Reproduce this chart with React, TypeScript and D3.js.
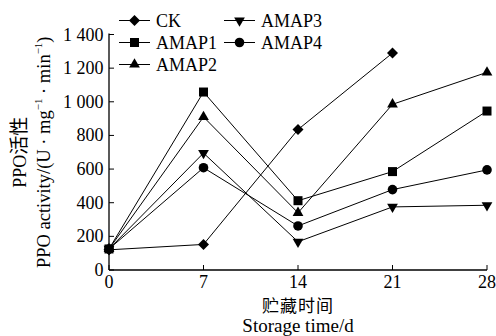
import React, { useRef, useEffect } from 'react';
import * as d3 from 'd3';

const days = [0, 7, 14, 21, 28];
const ckValues = [120, 152, 835, 1290];
const amap1Values = [125, 1058, 412, 585, 945];
const amap2Values = [125, 910, 340, 985, 1175];
const amap3Values = [125, 695, 168, 375, 385];
const amap4Values = [125, 608, 262, 478, 595];
const yTicks = [0, 200, 400, 600, 800, 1000, 1200, 1400];

const seriesNames = ['CK', 'AMAP1', 'AMAP2', 'AMAP3', 'AMAP4'];
const seriesValues = [ckValues, amap1Values, amap2Values, amap3Values, amap4Values];

const W = 496;
const H = 336;
const serif = 'Liberation Serif, Times New Roman, serif';
const cjk = 'Noto Sans CJK SC, sans-serif';

const fmt = (v: number) =>
  v >= 1000 ? `${Math.floor(v / 1000)} ${String(v % 1000).padStart(3, '0')}` : String(v);

// marker for each series
const drawMarker = (g: any, name: string, x: number, y: number) => {
  const t = `translate(${x},${y})`;
  if (name === 'CK') {
    g.append('path').attr('d', 'M0,-5.5L5.5,0L0,5.5L-5.5,0Z').attr('transform', t).attr('fill', '#000');
  } else if (name === 'AMAP1') {
    g.append('rect').attr('x', x - 4.5).attr('y', y - 4.5).attr('width', 9).attr('height', 9).attr('fill', '#000');
  } else if (name === 'AMAP2') {
    g.append('path').attr('d', d3.symbol(d3.symbolTriangle, 50)()).attr('transform', t).attr('fill', '#000');
  } else if (name === 'AMAP3') {
    g.append('path').attr('d', d3.symbol(d3.symbolTriangle, 50)()).attr('transform', `${t} rotate(180)`).attr('fill', '#000');
  } else {
    g.append('circle').attr('cx', x).attr('cy', y).attr('r', 4.8).attr('fill', '#000');
  }
};

const App = () => {
  const ref = useRef<SVGSVGElement>(null);

  useEffect(() => {
    const svg = d3.select(ref.current);
    svg.selectAll('*').remove();

    const x = d3.scaleLinear().domain([0, 28]).range([109, 487]);
    const y = d3.scaleLinear().domain([0, 1400]).range([270, 34.5]);

    // axes
    const ax = svg.append('g').attr('stroke', '#000').attr('stroke-width', 1.3);
    ax.append('line').attr('x1', x(0)).attr('x2', x(28)).attr('y1', y(0)).attr('y2', y(0));
    ax.append('line').attr('x1', x(0)).attr('x2', x(0)).attr('y1', y(0)).attr('y2', y(1400) - 1);
    days.forEach(d => {
      ax.append('line').attr('x1', x(d)).attr('x2', x(d)).attr('y1', y(0)).attr('y2', y(0) - 5).attr('stroke-width', 1);
    });
    yTicks.forEach(v => {
      ax.append('line').attr('x1', x(0)).attr('x2', x(0) + 5).attr('y1', y(v)).attr('y2', y(v)).attr('stroke-width', 1);
    });

    svg.append('g').selectAll('text').data(yTicks).join('text')
      .attr('x', x(0) - 5.5).attr('y', d => y(d) + 6)
      .attr('text-anchor', 'end').style('font-family', serif).attr('font-size', 18)
      .text(d => fmt(d));

    svg.append('g').selectAll('text').data(days).join('text')
      .attr('x', d => x(d)).attr('y', y(0) + 17.5)
      .attr('text-anchor', 'middle').style('font-family', serif).attr('font-size', 18)
      .text(d => d);

    // lines and markers
    const line = d3.line<number>().x((_, i) => x(days[i])).y(v => y(v));
    seriesValues.forEach(vals => {
      svg.append('path').attr('d', line(vals)).attr('fill', 'none').attr('stroke', '#000').attr('stroke-width', 1);
    });
    seriesValues.forEach((vals, si) => {
      const g = svg.append('g');
      vals.forEach((v, i) => drawMarker(g, seriesNames[si], x(days[i]), y(v)));
    });

    // legend
    const leg = svg.append('g');
    seriesNames.forEach((name, i) => {
      const col = i < 3 ? 0 : 1;
      const row = i < 3 ? i : i - 3;
      const lx = col === 0 ? 119 : 224;
      const ly = 20.5 + row * 22;
      leg.append('line').attr('x1', lx).attr('x2', lx + 31).attr('y1', ly).attr('y2', ly).attr('stroke', '#000').attr('stroke-width', 1);
      drawMarker(leg, name, lx + 15.5, ly);
      leg.append('text').attr('x', lx + 37).attr('y', ly + 6)
        .style('font-family', serif).attr('font-size', 18).text(name);
    });

    // axis titles
    const cx = (x(0) + x(28)) / 2;
    svg.append('text').attr('x', cx).attr('y', 311.5)
      .attr('text-anchor', 'middle').style('font-family', cjk).attr('font-size', 17)
      .attr('letter-spacing', 1)
      .text('贮藏时间');
    svg.append('text').attr('x', cx).attr('y', 331.5)
      .attr('text-anchor', 'middle').style('font-family', serif).attr('font-size', 19)
      .text('Storage time/d');

    const cy = (y(0) + y(1400)) / 2;
    const t1 = svg.append('text').attr('transform', `translate(26,${cy}) rotate(-90)`)
      .attr('text-anchor', 'middle').style('font-family', serif).attr('font-size', 18);
    t1.append('tspan').text('PPO');
    t1.append('tspan').style('font-family', cjk).attr('font-size', 19).text('活性');

    const t2 = svg.append('text').attr('transform', `translate(50,${cy}) rotate(-90)`)
      .attr('text-anchor', 'middle').style('font-family', serif).attr('font-size', 18.5);
    t2.append('tspan').text('PPO activity/(U · mg');
    t2.append('tspan').attr('font-size', 11).attr('dy', -8).text('−1');
    t2.append('tspan').attr('dy', 8).text(' · min');
    t2.append('tspan').attr('font-size', 11).attr('dy', -8).text('−1');
    t2.append('tspan').attr('dy', 8).text(')');
  }, []);

  return (
    <svg ref={ref} width={W} height={H}
      style={{ position: 'absolute', left: 0, top: 0, background: '#fff' }} />
  );
};

export default App;
